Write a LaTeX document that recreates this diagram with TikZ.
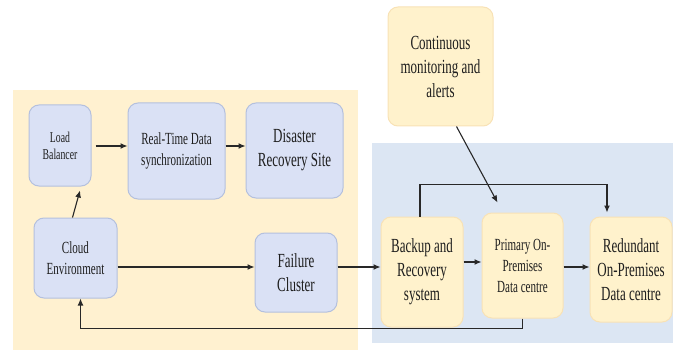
\documentclass[tikz,border=0pt]{standalone}
\usepackage{fontspec}
\newfontfamily\diagfont[FakeStretch=0.65]{Liberation Serif}
\usetikzlibrary{arrows.meta}
\definecolor{zoneyellow}{RGB}{255,241,208}
\definecolor{zoneblue}{RGB}{220,230,243}
\definecolor{boxblue}{RGB}{218,225,245}
\definecolor{boxblueline}{RGB}{180,192,222}
\definecolor{boxcream}{RGB}{255,242,204}
\definecolor{boxcreamline}{RGB}{248,226,182}
\definecolor{linkgray}{RGB}{40,40,40}
\definecolor{labelgray}{RGB}{30,30,30}
\newcommand{\bigtxt}{\fontsize{20}{24}\selectfont}
\newcommand{\midtxt}{\fontsize{17}{21}\selectfont}
\newcommand{\smalltxt}{\fontsize{15}{17}\selectfont}

\begin{document}
\begin{tikzpicture}[x=1pt, y=-1pt,
    bluebox/.style={draw=boxblueline, fill=boxblue, rounded corners=10pt, line width=1pt, align=center, inner sep=0pt, text=labelgray},
    creambox/.style={draw=boxcreamline, fill=boxcream, rounded corners=10pt, line width=1pt, align=center, inner sep=0pt, text=labelgray},
    txtbig/.style={font=\diagfont\bigtxt},
    txtmid/.style={font=\diagfont\midtxt},
    txtsmall/.style={font=\diagfont\smalltxt},
    link/.style={draw=linkgray, line width=1.1pt, -{Latex[length=7pt,width=6pt]}}]
        \useasboundingbox (0,0) rectangle (673,353);
        % zones
        \fill[zoneyellow] (13,90) rectangle (358,350);
        \fill[zoneblue] (372,143) rectangle (673,343);

        % cloud side
        \node[bluebox, txtsmall, minimum width=62pt, minimum height=81pt] (lb) at (60,145.5) {Load\\Balancer};
        \node[bluebox, txtmid, minimum width=97pt, minimum height=96pt] (rtd) at (176.5,151) {Real-Time Data\\synchronization};
        \node[bluebox, txtbig, minimum width=97pt, minimum height=95pt] (drs) at (294.5,150.5) {Disaster\\Recovery Site};
        \node[bluebox, txtmid, minimum width=83pt, minimum height=80pt] (cloud) at (75.5,258) {Cloud\\Environment};
        \node[bluebox, txtbig, minimum width=82pt, minimum height=79pt] (fail) at (296,272.5) {Failure\\Cluster};

        % on-premises side
        \node[creambox, txtbig, minimum width=105pt, minimum height=119pt] (mon) at (440.5,66.5) {Continuous\\monitoring and\\alerts};
        \node[creambox, txtbig, minimum width=82pt, minimum height=110pt] (backup) at (422,272) {Backup and\\Recovery\\system};
        \node[creambox, txtmid, minimum width=81pt, minimum height=105pt] (primary) at (522.5,265.5) {Primary On-\\Premises\\Data centre};
        \node[creambox, txtbig, minimum width=82pt, minimum height=105pt] (redund) at (631,269.5) {Redundant\\On-Premises\\Data centre};

        % links
        \draw[link] ([xshift=4pt]lb.east |- 0,146) -- (rtd.west |- 0,146);
        \draw[link] (rtd.east |- 0,146) -- (drs.west |- 0,146);
        \draw[link] ([xshift=-3pt]cloud.north) -- ([xshift=20pt,yshift=-4pt]lb.south);
        \draw[link] (cloud.east |- 0,267) -- (fail.west |- 0,267);
        \draw[link] (fail.east |- 0,267) -- (backup.west |- 0,267);
        \draw[link] (backup.east |- 0,262) -- (primary.west |- 0,262);
        \draw[link] (primary.east |- 0,267) -- (redund.west |- 0,267);
        \draw[link] (primary.south) -- ++(0,10) -| ([xshift=5pt]cloud.south);
        \draw[link] ([xshift=-2pt]backup.north) -- ++(0,-32) -| ([xshift=-24pt,yshift=4pt]redund.north);
        \draw[link] ([xshift=16pt]mon.south) -- ([xshift=-25pt,yshift=10pt]primary.north);
\end{tikzpicture}
\end{document}
